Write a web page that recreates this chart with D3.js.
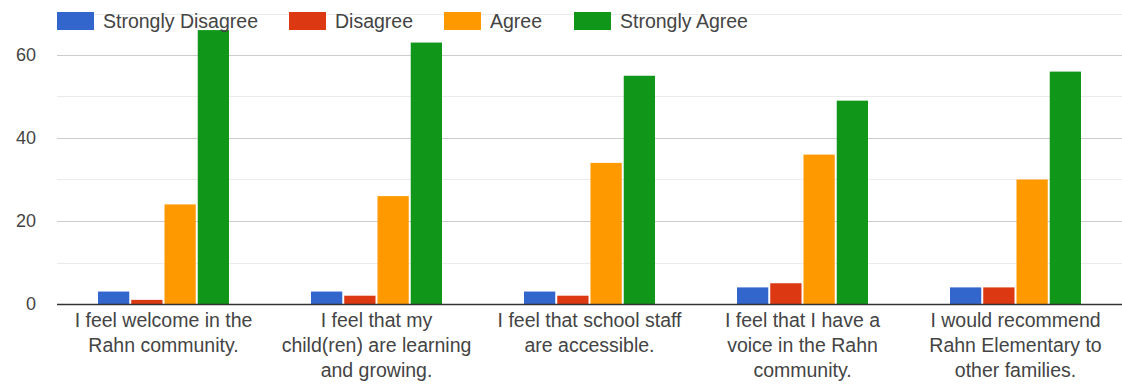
<!DOCTYPE html>
<html><head><meta charset="utf-8">
<script src="https://cdn.jsdelivr.net/npm/d3@7"></script>
<style>body{margin:0;background:#fff;} svg{display:block;font-family:"Liberation Sans",Arial,sans-serif;}</style>
</head><body><svg id="c" width="1122" height="385"></svg>
<script>
const categories = [
  ["I feel welcome in the", "Rahn community."],
  ["I feel that my", "child(ren) are learning", "and growing."],
  ["I feel that school staff", "are accessible."],
  ["I feel that I have a", "voice in the Rahn", "community."],
  ["I would recommend", "Rahn Elementary to", "other families."]
];
const seriesNames = ["Strongly Disagree", "Disagree", "Agree", "Strongly Agree"];
const stronglyDisagree = [3, 3, 3, 4, 4];
const disagree = [1, 2, 2, 5, 4];
const agree = [24, 26, 34, 36, 30];
const stronglyAgree = [66, 63, 55, 49, 56];
const yTicks = [0, 20, 40, 60];
const yGrid = [0, 10, 20, 30, 40, 50, 60, 70];
const colors = ["#3366cc", "#dc3912", "#ff9900", "#109618"];

const series = [stronglyDisagree, disagree, agree, stronglyAgree];
const svg = d3.select("#c");
const mLeft = 57, mRight = 1122, mTop = 13.5, mBottom = 304;
const x0 = d3.scaleBand().domain(d3.range(categories.length)).range([mLeft, mRight]).paddingInner(0).paddingOuter(0);
const innerPad = (x0.bandwidth() - 131) / 2;
const x1 = d3.scaleBand().domain(d3.range(series.length)).range([innerPad, x0.bandwidth() - innerPad]).paddingInner(0.06);
const y = d3.scaleLinear().domain([0, 70]).range([mBottom, mTop]);

// gridlines
svg.append("g").selectAll("line").data(yGrid.filter(d => d > 0)).join("line")
  .attr("x1", mLeft).attr("x2", mRight)
  .attr("y1", d => Math.round(y(d)) + 0.5).attr("y2", d => Math.round(y(d)) + 0.5)
  .attr("stroke", d => d % 20 === 0 ? "#cccccc" : "#ebebeb").attr("stroke-width", 1);

// y tick labels
svg.append("g").selectAll("text").data(yTicks).join("text")
  .attr("x", 36).attr("y", d => y(d)).attr("dy", "0.35em")
  .attr("text-anchor", "end").attr("font-size", 18).attr("fill", "#444")
  .text(d => d);

// bars
const groups = svg.append("g").selectAll("g").data(categories).join("g")
  .attr("transform", (d, i) => `translate(${x0(i)},0)`);
groups.selectAll("rect").data((d, i) => series.map((s, j) => ({ j, v: s[i] }))).join("rect")
  .attr("x", d => x1(d.j)).attr("width", x1.bandwidth())
  .attr("y", d => y(d.v)).attr("height", d => y(0) - y(d.v))
  .attr("fill", d => colors[d.j]);

// baseline
svg.append("line").attr("x1", mLeft).attr("x2", mRight)
  .attr("y1", y(0) + 0.5).attr("y2", y(0) + 0.5).attr("stroke", "#333").attr("stroke-width", 1.5);

// x labels
const xl = svg.append("g").selectAll("text").data(categories).join("text")
  .attr("text-anchor", "middle").attr("font-size", 19.5).attr("fill", "#444")
  .attr("transform", (d, i) => `translate(${x0(i) + x0.bandwidth() / 2},327)`);
xl.selectAll("tspan").data(d => d).join("tspan")
  .attr("x", 0).attr("y", (d, k) => k * 25).text(d => d);

// legend
const legendX = [57, 289, 444, 574];
const lg = svg.append("g").selectAll("g").data(seriesNames).join("g")
  .attr("transform", (d, i) => `translate(${legendX[i]},12)`);
lg.append("rect").attr("width", 37).attr("height", 18).attr("fill", (d, i) => colors[i]);
lg.append("text").attr("x", 46).attr("y", 9).attr("dy", "0.35em")
  .attr("font-size", 19.5).attr("fill", "#444").text(d => d);
</script></body></html>
